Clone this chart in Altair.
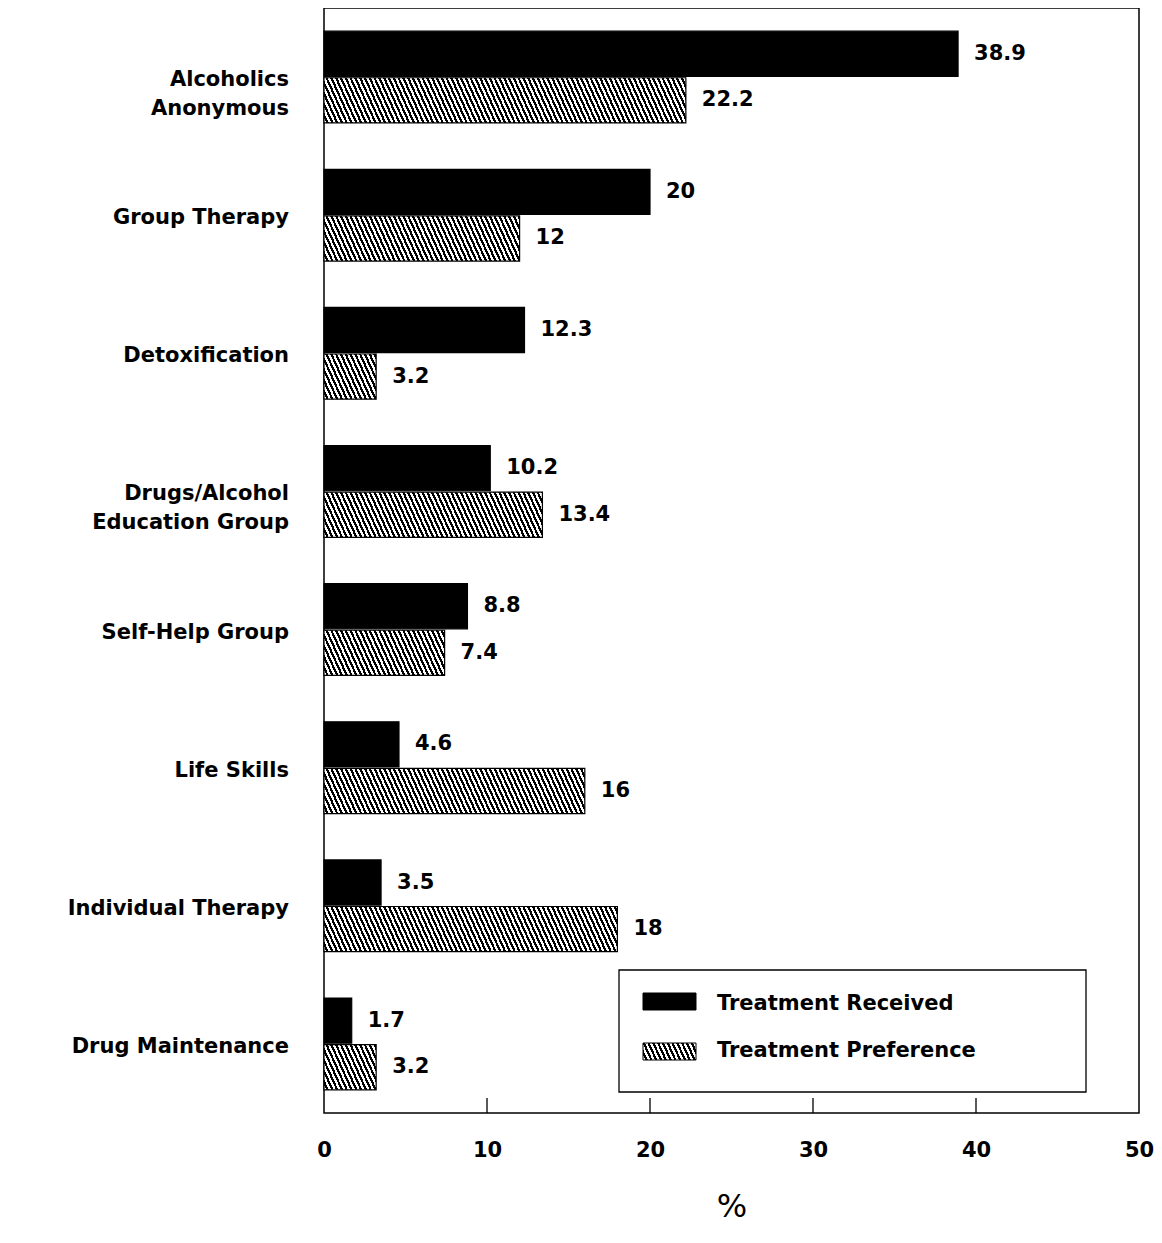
import altair as alt
import pandas as pd

categories = ["Alcoholics Anonymous", "Group Therapy", "Detoxification",
              "Drugs/Alcohol Education Group", "Self-Help Group", "Life Skills",
              "Individual Therapy", "Drug Maintenance"]
label_line1 = ["Alcoholics", "Group Therapy", "Detoxification", "Drugs/Alcohol",
               "Self-Help Group", "Life Skills", "Individual Therapy", "Drug Maintenance"]
label_line2 = ["Anonymous", "", "", "Education Group", "", "", "", ""]
series = ["Treatment Received", "Treatment Preference"]
received = [38.9, 20, 12.3, 10.2, 8.8, 4.6, 3.5, 1.7]
preference = [22.2, 12, 3.2, 13.4, 7.4, 16, 18, 3.2]
x_ticks = [0, 10, 20, 30, 40, 50]
inner_ticks = [10, 20, 30, 40]

W, H = 815, 1105
XMAX = 50
FONT = "DejaVu Sans"
FW = "bold"
FS = 21

# band geometry (for hatch gradient computation)
PI, PO = 0.336, 0.168
SUB_PI = 0.03
step = H / (len(categories) - PI + 2 * PO)
band = step * (1 - PI)
bar_h = band / (2 - SUB_PI) * (1 - SUB_PI)


def hatch(w, h, period=4.8, k=0.45, black=0.5):
    """Diagonal '\\' hatch as a linear gradient in bounding-box units."""
    R = w + k * h
    s = (w + k * h) / (w * w + k * k * h * h)
    p = period / R
    stops = []
    t = 0.0
    while t < 1.0:
        a = t
        b = min(t + p * (1 - black), 1.0)
        c = min(t + p, 1.0)
        stops += [alt.GradientStop(offset=a, color="white"),
                  alt.GradientStop(offset=b, color="white"),
                  alt.GradientStop(offset=b, color="black"),
                  alt.GradientStop(offset=c, color="black")]
        t += p
    return alt.LinearGradient(gradient="linear", stops=stops,
                              x1=0, y1=1, x2=s * w, y2=1 - s * k * h)


rows = []
for c, r, p in zip(categories, received, preference):
    rows.append({"category": c, "series": series[0], "value": r})
    rows.append({"category": c, "series": series[1], "value": p})
df = pd.DataFrame(rows)

yscale = alt.Scale(domain=categories, paddingInner=PI, paddingOuter=PO)
yoff = alt.YOffset("series:N", scale=alt.Scale(domain=series, paddingInner=SUB_PI, paddingOuter=0))
xscale = alt.Scale(domain=[0, XMAX], nice=False, zero=True)

xaxis = alt.Axis(values=x_ticks, domain=False, ticks=False, grid=False, labelFlush=False,
                 labelFont=FONT, labelFontSize=FS, labelFontWeight=FW, labelColor="black",
                 labelPadding=26,
                 title="%", titleFont=FONT, titleFontSize=32, titleFontWeight="normal",
                 titleColor="black", titlePadding=31)

base = alt.Chart(df)

rec_bars = base.transform_filter(alt.datum.series == series[0]).mark_bar(
    fill="black", stroke="black", strokeWidth=1.2
).encode(
    x=alt.X("value:Q", scale=xscale, axis=xaxis),
    y=alt.Y("category:N", scale=yscale, axis=None, sort=categories),
    yOffset=yoff,
)

layers = [rec_bars]
for c, p in zip(categories, preference):
    w = p * W / XMAX
    layers.append(
        base.transform_filter((alt.datum.series == series[1]) & (alt.datum.category == c))
        .mark_bar(fill=hatch(w, bar_h), stroke="black", strokeWidth=1.2)
        .encode(x=alt.X("value:Q", scale=xscale),
                y=alt.Y("category:N", scale=yscale, sort=categories),
                yOffset=yoff)
    )

value_labels = base.mark_text(align="left", baseline="middle", dx=16, font=FONT,
                              fontSize=FS, fontWeight=FW, color="black").encode(
    x=alt.X("value:Q", scale=xscale),
    y=alt.Y("category:N", scale=yscale, sort=categories),
    yOffset=yoff,
    text=alt.Text("value:Q", format="~g"),
)
layers.append(value_labels)

lab_df = pd.DataFrame({"category": categories, "l1": label_line1, "l2": label_line2})
lab1 = alt.Chart(lab_df).mark_text(align="right", baseline="middle", dy=3, font=FONT,
                                   fontSize=FS, fontWeight=FW, color="black").encode(
    x=alt.value(-35),
    y=alt.Y("category:N", scale=yscale, sort=categories),
    text="l1:N",
)
lab2 = alt.Chart(lab_df).transform_filter(alt.datum.l2 != "").mark_text(
    align="right", baseline="middle", dy=32, font=FONT, fontSize=FS, fontWeight=FW,
    color="black").encode(
    x=alt.value(-35),
    y=alt.Y("category:N", scale=yscale, sort=categories),
    text="l2:N",
)
layers += [lab1, lab2]

tick_df = pd.DataFrame({"t": inner_ticks})
ticks = alt.Chart(tick_df).mark_rule(color="black", strokeWidth=1.3).encode(
    x=alt.X("t:Q", scale=xscale),
    y=alt.value(H - 15), y2=alt.value(H),
)
layers.append(ticks)

# legend (manual, to show hatching)
one = pd.DataFrame({"k": [0]})
leg_box = alt.Chart(one).mark_rect(fill="white", stroke="black", strokeWidth=1.3).encode(
    x=alt.value(295), x2=alt.value(762), y=alt.value(962), y2=alt.value(1084))
sw1 = alt.Chart(one).mark_rect(fill="black", stroke="black", strokeWidth=1).encode(
    x=alt.value(319), x2=alt.value(372), y=alt.value(985), y2=alt.value(1002))
sw2 = alt.Chart(one).mark_rect(fill=hatch(53, 17), stroke="black", strokeWidth=1).encode(
    x=alt.value(319), x2=alt.value(372), y=alt.value(1035), y2=alt.value(1052))
leg_df = pd.DataFrame({"name": series, "yy": [1002, 1049]})
leg_txt = alt.Chart(leg_df).mark_text(align="left", baseline="alphabetic", font=FONT,
                                      fontSize=FS, fontWeight=FW, color="black").encode(
    x=alt.value(393), y=alt.Y("yy:Q", scale=None), text="name:N")
layers += [leg_box, sw1, sw2, leg_txt]

chart = alt.layer(*layers).properties(
    width=W, height=H,
    background="white",
    autosize=alt.AutoSizeParams(type="none"),
    padding={"left": 316, "top": 0, "right": 15, "bottom": 117},
).configure_view(stroke="black", strokeWidth=1.5)

chart.save("out.html", embed_options={"renderer": "svg", "actions": False})
